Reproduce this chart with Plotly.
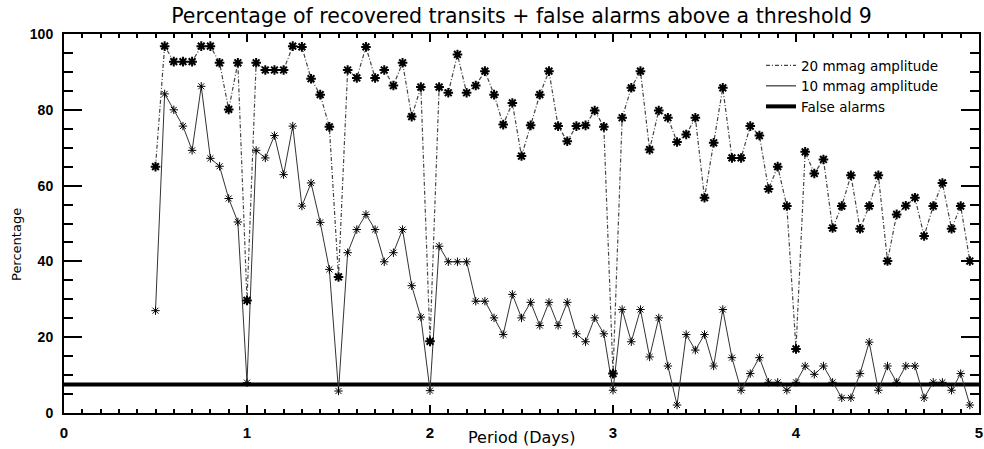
import plotly.graph_objects as go

periods = [0.50, 0.55, 0.60, 0.65, 0.70, 0.75, 0.80, 0.85, 0.90, 0.95,
           1.00, 1.05, 1.10, 1.15, 1.20, 1.25, 1.30, 1.35, 1.40, 1.45,
           1.50, 1.55, 1.60, 1.65, 1.70, 1.75, 1.80, 1.85, 1.90, 1.95,
           2.00, 2.05, 2.10, 2.15, 2.20, 2.25, 2.30, 2.35, 2.40, 2.45,
           2.50, 2.55, 2.60, 2.65, 2.70, 2.75, 2.80, 2.85, 2.90, 2.95,
           3.00, 3.05, 3.10, 3.15, 3.20, 3.25, 3.30, 3.35, 3.40, 3.45,
           3.50, 3.55, 3.60, 3.65, 3.70, 3.75, 3.80, 3.85, 3.90, 3.95,
           4.00, 4.05, 4.10, 4.15, 4.20, 4.25, 4.30, 4.35, 4.40, 4.45,
           4.50, 4.55, 4.60, 4.65, 4.70, 4.75, 4.80, 4.85, 4.90, 4.95]

amp20 = [65.0, 96.8, 92.7, 92.7, 92.7, 96.8, 96.8, 92.4, 80.1, 92.4,
         29.7, 92.4, 90.5, 90.5, 90.5, 96.8, 96.6, 88.2, 84.0, 75.5,
         35.9, 90.5, 88.4, 96.6, 88.4, 90.5, 86.4, 92.4, 78.2, 86.0,
         18.9, 86.0, 84.5, 94.6, 84.5, 86.4, 90.2, 84.0, 76.1, 81.8,
         67.8, 75.9, 84.0, 90.2, 75.7, 71.7, 75.7, 75.9, 79.8, 75.5,
         10.4, 77.9, 85.8, 90.2, 69.5, 79.8, 77.9, 71.5, 73.5, 77.9,
         56.8, 71.3, 85.8, 67.3, 67.3, 75.7, 73.2, 59.1, 65.0, 54.6,
         16.9, 68.9, 63.2, 66.9, 48.8, 54.6, 62.7, 48.6, 54.6, 62.7,
         40.1, 52.4, 54.7, 56.8, 46.7, 54.6, 60.7, 48.6, 54.6, 40.1]

amp10 = [27.0, 84.2, 80.0, 75.7, 69.3, 86.2, 67.2, 65.1, 56.6, 50.4,
         8.0, 69.3, 67.3, 73.2, 62.9, 75.7, 54.6, 60.7, 50.3, 37.9,
         5.8, 42.3, 48.4, 52.4, 48.4, 39.9, 42.3, 48.4, 33.6, 25.3,
         5.9, 44.0, 39.9, 39.9, 39.9, 29.5, 29.5, 25.1, 20.7, 31.3,
         25.1, 29.2, 23.1, 29.2, 23.1, 29.2, 20.9, 18.8, 25.1, 20.9,
         6.0, 27.3, 18.8, 27.3, 14.8, 25.1, 12.4, 2.1, 20.7, 16.6,
         20.7, 12.4, 27.3, 14.6, 6.0, 10.4, 14.6, 8.1, 8.1, 6.0,
         8.1, 12.4, 10.2, 12.4, 8.1, 4.0, 4.0, 10.4, 18.7, 6.0,
         12.4, 8.1, 12.4, 12.4, 4.0, 8.1, 8.1, 6.0, 10.4, 2.1]

false_alarm_x = [0.0, 5.0]
false_alarm_level = [7.5, 7.5]

series_names = ["20 mmag amplitude", "10 mmag amplitude", "False alarms"]

title_text = "Percentage of recovered transits + false alarms above a threshold 9"
x_title = "Period (Days)"
y_title = "Percentage"

W, H = 984, 449
ML, MR, MT, MB = 64, 5, 34, 36
PH = H - MT - MB
PW = W - ML - MR

fig = go.Figure()

# False alarm level
fig.add_trace(go.Scatter(x=false_alarm_x, y=false_alarm_level, mode="lines",
                         line=dict(color="black", width=4), showlegend=False,
                         hoverinfo="skip"))

# 10 mmag series
fig.add_trace(go.Scatter(x=periods, y=amp10, mode="lines+markers",
                         line=dict(color="#333333", width=1),
                         marker=dict(symbol="asterisk-open", size=7, color="black",
                                     line=dict(color="black", width=1)),
                         showlegend=False))

# 20 mmag series
fig.add_trace(go.Scatter(x=periods, y=amp20, mode="lines+markers",
                         line=dict(color="#444444", width=1.2, dash="4px,2px,1px,2px"),
                         marker=dict(symbol="asterisk-open", size=8, color="black",
                                     line=dict(color="black", width=2)),
                         showlegend=False))

# legend entries (lines only, as in the reference)
fig.add_trace(go.Scatter(x=[None], y=[None], mode="lines", name=series_names[0],
                         line=dict(color="#444444", width=1.2, dash="4px,2px,1px,2px")))
fig.add_trace(go.Scatter(x=[None], y=[None], mode="lines", name=series_names[1],
                         line=dict(color="#333333", width=1.2)))
fig.add_trace(go.Scatter(x=[None], y=[None], mode="lines", name=series_names[2],
                         line=dict(color="black", width=4)))

axis_common = dict(showline=True, linecolor="black", linewidth=2, mirror="ticks",
                   ticks="inside", tickcolor="black", showgrid=False, zeroline=False)

fig.update_xaxes(range=[0, 5], dtick=1, tick0=0, ticklen=8, tickwidth=2,
                 minor=dict(dtick=0.1, ticklen=4, tickwidth=1.5, ticks="inside",
                            tickcolor="black", showgrid=False),
                 tickfont=dict(family="Liberation Sans", size=15, color="black", weight="bold"),
                 ticklabelstandoff=5,
                 **axis_common)
fig.update_yaxes(range=[0, 100], dtick=20, tick0=0, ticklen=18, tickwidth=2,
                 minor=dict(dtick=5, ticklen=9, tickwidth=1.5, ticks="inside",
                            tickcolor="black", showgrid=False),
                 tickfont=dict(family="Liberation Sans", size=14, color="black", weight="bold"),
                 ticklabelstandoff=6,
                 **axis_common)

fig.update_layout(
    width=W, height=H,
    margin=dict(l=ML, r=MR, t=MT, b=MB, autoexpand=False),
    paper_bgcolor="white", plot_bgcolor="white",
    title=dict(text=title_text, x=0.5, xref="paper", xanchor="center",
               y=1 - 16 / H, yref="container", yanchor="middle",
               font=dict(family="DejaVu Sans", size=20.5, color="black")),
    legend=dict(x=(761 - ML) / PW, y=1 - (50 - MT) / PH, xanchor="left", yanchor="top",
                bgcolor="rgba(0,0,0,0)", borderwidth=0, tracegroupgap=0,
                font=dict(family="DejaVu Sans", size=13.5, color="black")),
    annotations=[
        dict(text=x_title, xref="paper", yref="paper", x=0.5, y=-(437 - (H - MB)) / PH,
             xanchor="center", yanchor="middle", showarrow=False,
             font=dict(family="DejaVu Sans", size=16, color="black")),
        dict(text=y_title, xref="paper", yref="paper", x=-(ML - 16) / PW, y=1 - (245 - MT) / PH,
             xanchor="center", yanchor="middle", textangle=-90, showarrow=False,
             font=dict(family="DejaVu Sans", size=13, color="black")),
    ],
)

fig.write_html("out.html", config={"displayModeBar": False},
               post_script="document.body.style.margin='0';")
